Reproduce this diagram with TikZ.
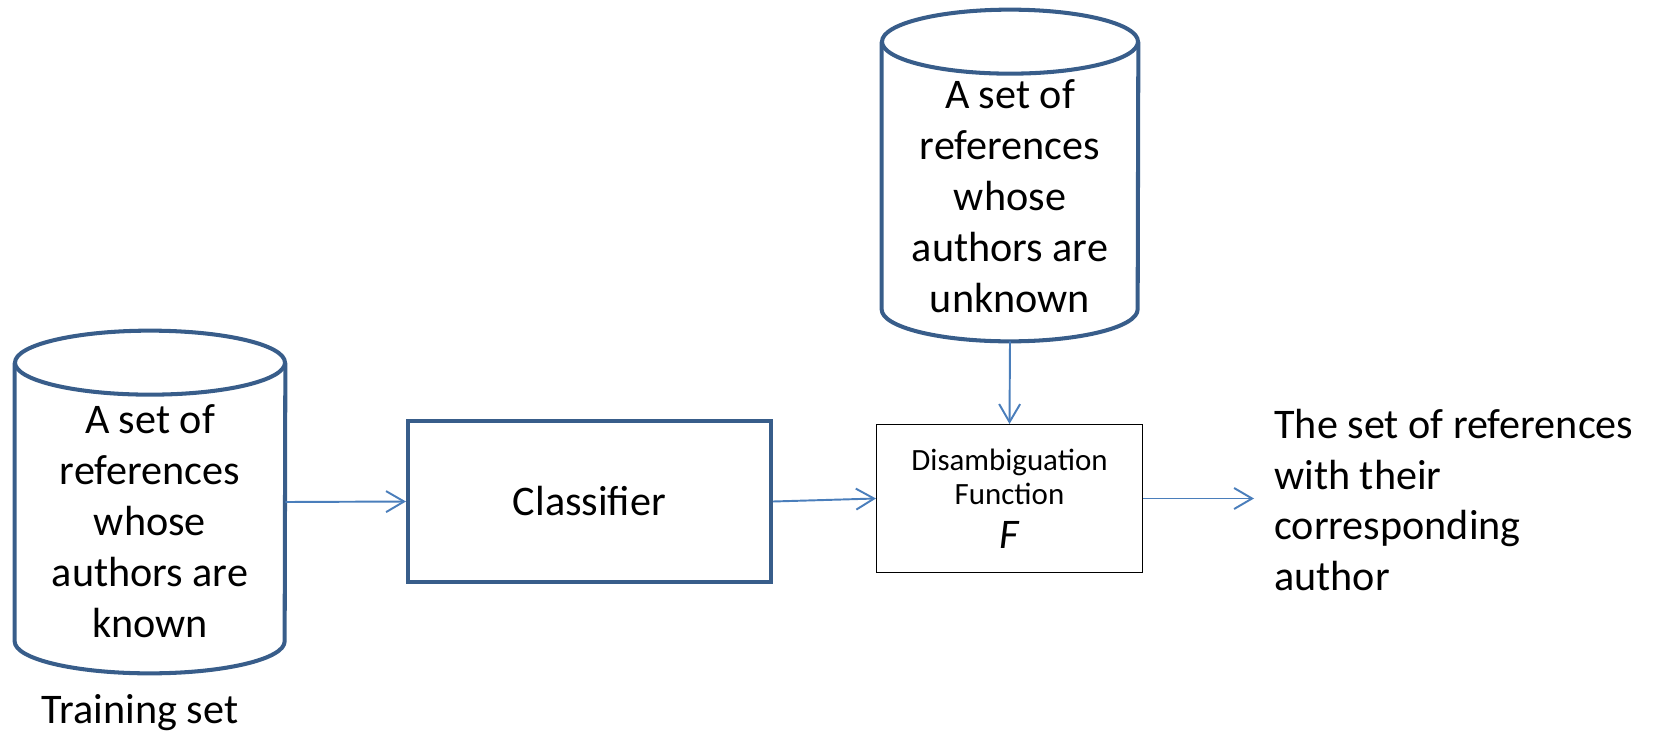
\documentclass[tikz,border=0pt]{standalone}
\usepackage{fontspec}
\setmainfont{Carlito}
\usetikzlibrary{positioning,arrows.meta,calc}
\definecolor{boxblue}{HTML}{385D8A}
\definecolor{linkblue}{HTML}{4A7EBB}
\tikzset{
	>={Straight Barb[length=0.36cm,width=0.42cm]}
}
\newcommand{\bigtext}{\fontsize{24}{29}\selectfont}
\newcommand{\smalltext}{\fontsize{17.6}{19.4}\selectfont}
\newcommand{\capr}{0.64cm}
\newcommand{\database}[4]{
	\node[minimum width=#3, minimum height=#4] (#1) at #2 {};
	\draw[dbline] ($(#1.north west)+(0,-\capr)$) -- ($(#1.south west)+(0,\capr)$)
		arc[start angle=180, end angle=360, x radius=#3/2, y radius=\capr]
		-- ($(#1.north east)+(0,-\capr)$);
	\draw[dbline] ($(#1.north)+(0,-\capr)$) ellipse[x radius=#3/2, y radius=\capr];}

\begin{document}
\begin{tikzpicture}[
dbline/.style = {
	draw = boxblue,
	line width = 2.3pt,
	line join = round,
},
process/.style = {
	draw = boxblue,
	line width = 2.3pt,
	font = \bigtext,
},
flow/.style = {
	->,
	draw = linkblue,
	line width = 1.1pt,
},
every node/.style = {
	align = center,
	inner sep = 0pt,
}
]
\useasboundingbox (0,0) rectangle (33.1,-14.66);

\database{known}{(3.0,-10.04)}{5.4cm}{6.84cm}
\node[font=\bigtext] (knowntext) at (3.0,-10.42) {A set of\\references\\whose\\authors are\\known};
\node[font=\bigtext] (training) at (2.8,-14.26) {Training set};

\node[process, minimum width=7.26cm, minimum height=3.22cm] (classifier) at (11.79,-10.03) {Classifier};

\database{unknown}{(20.2,-3.51)}{5.12cm}{6.62cm}
\node[font=\bigtext] (unknowntext) at (20.2,-3.92) {A set of\\references\\whose\\authors are\\unknown};

\node[draw, line width=0.6pt, minimum width=5.32cm, minimum height=2.96cm, font=\smalltext] (disamb) at (20.19,-9.97)
	{Disambiguation\\Function\\[0.2cm]{\bigtext\itshape F}};

\node[font=\bigtext, align=left, anchor=west, inner xsep=0.4cm] (result) at (25.08,-10.0)
	{The set of references\\with their\\corresponding\\author};

\draw[flow] (known.east) -- (classifier.west);
\draw[flow] (classifier.east) -- (disamb.west);
\draw[flow] (unknown.south) -- (disamb.north);
\draw[flow] (disamb.east) -- (disamb.east -| result.west);

\end{tikzpicture}
\end{document}
